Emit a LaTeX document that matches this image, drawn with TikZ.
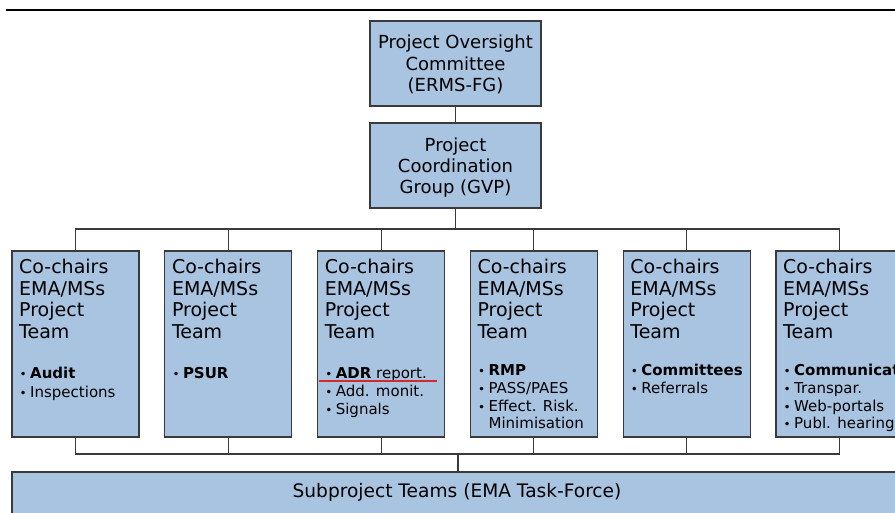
\documentclass[tikz,border=0pt]{standalone}
\usepackage{fontspec}
\setmainfont{DejaVu Sans}
\definecolor{boxfill}{HTML}{A9C4E1}
\definecolor{boxline}{HTML}{3A3A3A}
\definecolor{redline}{HTML}{D42A2A}
\newcommand{\bigtxt}{\fontsize{18}{21.5}\selectfont}
\newcommand{\headtxt}{\fontsize{19}{21.5}\selectfont}
\newcommand{\bottxt}{\fontsize{18.6}{21.5}\selectfont}
\newcommand{\smtxt}{\fontsize{15}{18}\selectfont}
\newcommand{\blt}{\makebox[10.5pt][l]{\fontsize{12}{12}\selectfont •}}
\tikzset{
  orgbox/.style={draw=boxline, fill=boxfill, line width=1.2pt, inner sep=0pt, outer sep=0pt, anchor=north west},
  conn/.style={draw=boxline, line width=1.1pt},
  head/.style={anchor=base west, inner sep=0pt, font=\headtxt},
  ctext/.style={anchor=base, inner sep=0pt, font=\bigtxt},
  bul/.style={anchor=base west, inner sep=0pt, font=\smtxt},
}
\begin{document}
\begin{tikzpicture}[x=1pt, y=-1pt]
\useasboundingbox (0,0) rectangle (895,513);
\clip (0,0) rectangle (895,513);
% top rule
\draw[line width=2.6pt, black] (6,10) -- (895,10);
% top boxes
\node[orgbox, minimum width=171pt, minimum height=85pt] (poc) at (370,21) {};
\node[ctext] (poc1) at (455.5,49) {Project Oversight};
\node[ctext] (poc2) at (455.5,71) {Committee};
\node[ctext] (poc3) at (455.5,92) {(ERMS-FG)};
\node[orgbox, minimum width=171pt, minimum height=85pt] (pcg) at (370,123) {};
\node[ctext] (pcg1) at (455.5,152) {Project};
\node[ctext] (pcg2) at (455.5,173) {Coordination};
\node[ctext] (pcg3) at (455.5,194) {Group (GVP)};
% column boxes
\foreach \i/\L in {1/12,2/164.8,3/317.6,4/470.4,5/623.2,6/776}{
  \node[orgbox, minimum width=127pt, minimum height=186pt] (c\i) at (\L,251) {};
  \node[head] (c\i h1) at (\L+7,274) {Co-chairs};
  \node[head] (c\i h2) at (\L+7,295.5) {EMA/MSs};
  \node[head] (c\i h3) at (\L+7,317) {Project};
  \node[head] (c\i h4) at (\L+7,338.5) {Team};
}
% bullets
\node[bul] (b11) at (12+7.5,378) {\blt\textbf{Audit}};
\node[bul] (b12) at (12+7.5,397) {\blt Inspections};
\node[bul] (b21) at (164.8+7.5,378) {\blt\textbf{PSUR}};
\node[bul] (b31) at (317.6+7.5,378) {\blt\textbf{ADR} report.};
\node[bul] (b32) at (317.6+7.5,396) {\blt Add. monit.};
\node[bul] (b33) at (317.6+7.5,414) {\blt Signals};
\node[bul] (b41) at (470.4+7.5,375) {\blt\textbf{RMP}};
\node[bul] (b42) at (470.4+7.5,393) {\blt PASS/PAES};
\node[bul] (b43) at (470.4+7.5,411) {\blt Effect. Risk.};
\node[bul] (b44) at (470.4+18,428) {Minimisation};
\node[bul] (b51) at (623.2+7.5,375) {\blt\textbf{Committees}};
\node[bul] (b52) at (623.2+7.5,393) {\blt Referrals};
\node[bul] (b61) at (776+7.5,375) {\blt\textbf{Communication}};
\node[bul] (b62) at (776+7.5,393) {\blt Transpar.};
\node[bul] (b63) at (776+7.5,411) {\blt Web-portals};
\node[bul] (b64) at (776+7.5,428) {\blt Publ. hearing};
% red underline
\coordinate (ru1) at (319,381);
\coordinate (ru2) at (437,381);
\draw[redline, line width=1.8pt] (ru1) -- (ru2);
% bottom box
\node[orgbox, minimum width=892pt, minimum height=60pt] (spt) at (12,472) {};
\node[anchor=base, inner sep=0pt, font=\bottxt] (spt1) at (457,497) {Subproject Teams (EMA Task-Force)};
% connectors
\draw[conn] (poc.south) -- (pcg.north);
\coordinate (bus1) at (455.5,229);
\draw[conn] (pcg.south) -- (bus1);
\draw[conn] (c1.north) |- (bus1) -| (c6.north);
\foreach \i in {2,3,4,5}{ \draw[conn] (c\i.north) -- ++(0,-22); }
\coordinate (bus2) at (458,454);
\draw[conn] (c1.south) |- (bus2) -| (c6.south);
\foreach \i in {2,3,4,5}{ \draw[conn] (c\i.south) -- ++(0,17); }
\draw[conn] (bus2) -- (bus2 |- spt.north);
\end{tikzpicture}
\end{document}
